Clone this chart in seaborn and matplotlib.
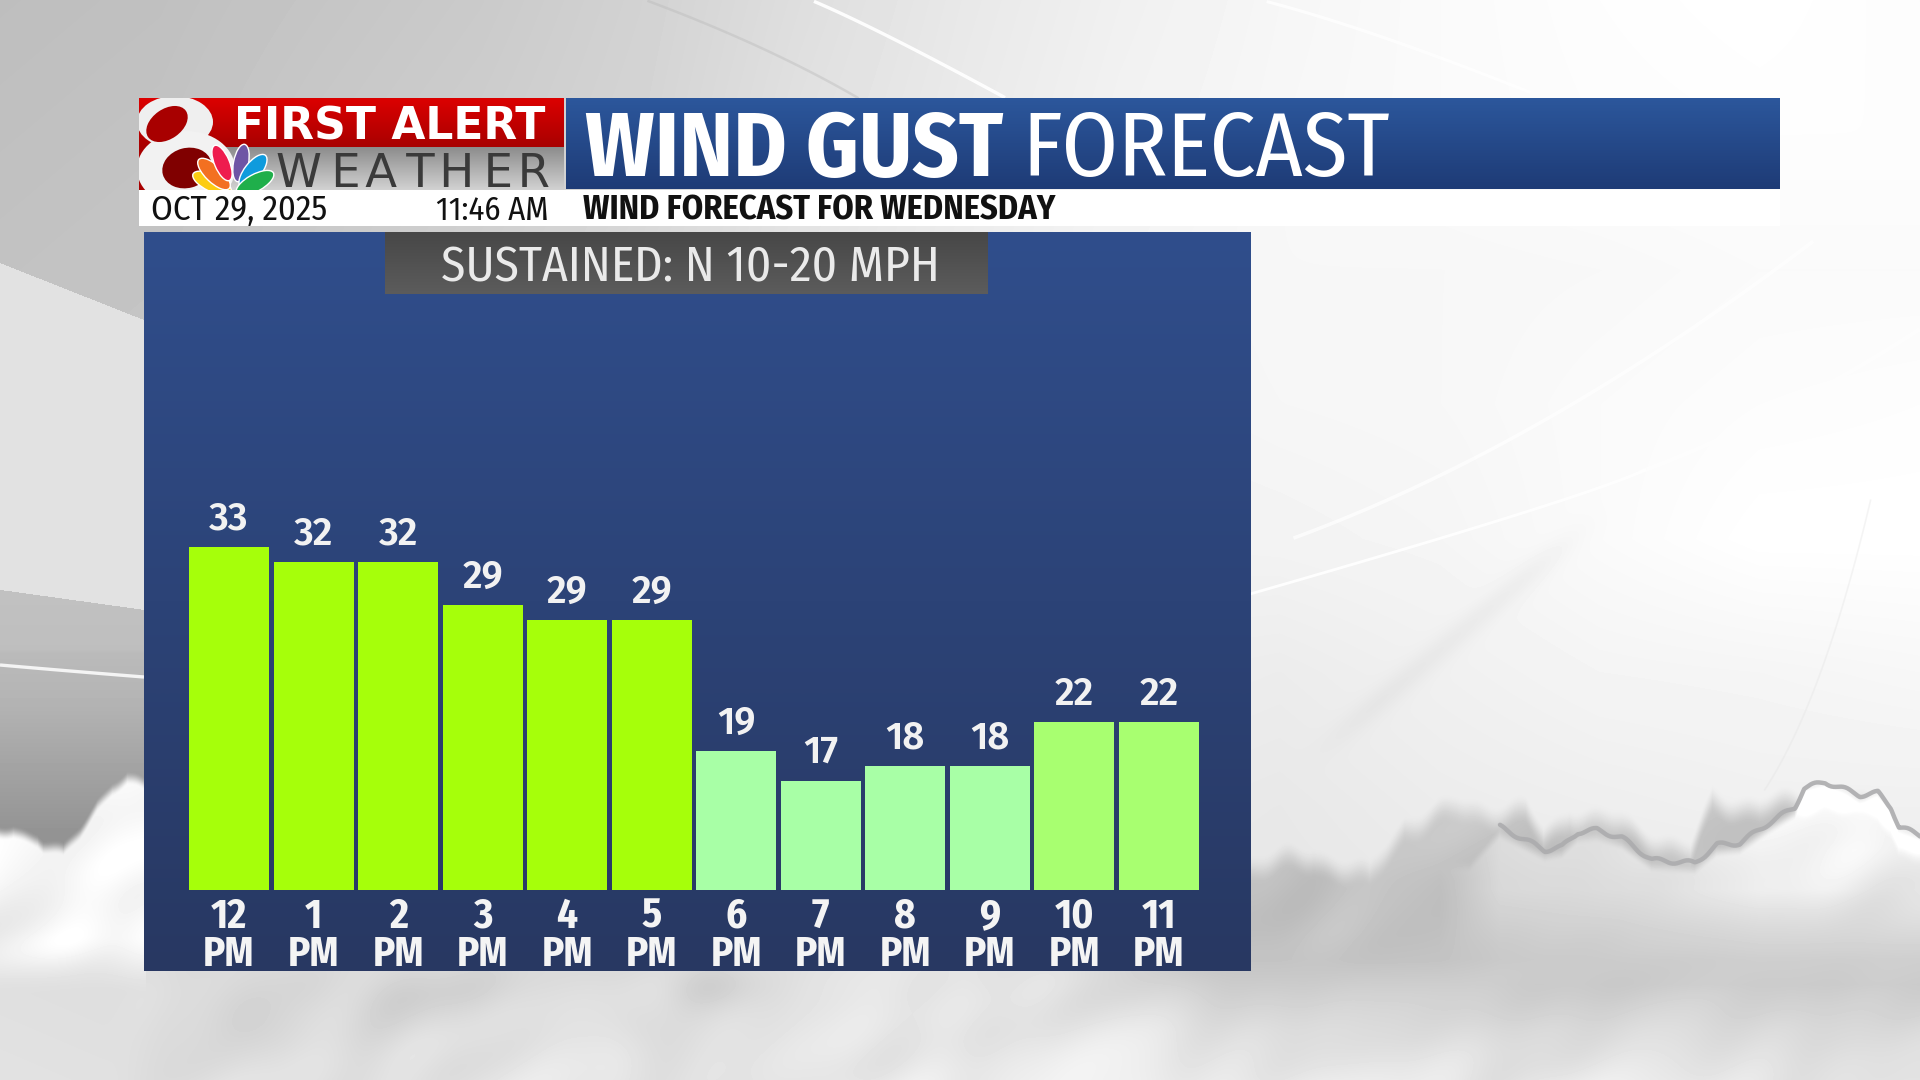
import numpy as np
import pandas as pd
import matplotlib
matplotlib.use("Agg")
import matplotlib.pyplot as plt
from matplotlib.patches import Ellipse, Rectangle
import seaborn as sns

# ---- data ----
hours = ["12\nPM", "1\nPM", "2\nPM", "3\nPM", "4\nPM", "5\nPM", "6\nPM", "7\nPM", "8\nPM", "9\nPM", "10\nPM", "11\nPM"]
bar_levels = [33, 32, 32, 29, 28, 28, 19, 17, 18, 18, 21, 21]
gust_labels = [33, 32, 32, 29, 29, 29, 19, 17, 18, 18, 22, 22]
bar_colors = ["#A6FF0A"] * 6 + ["#A8FFA6"] * 4 + ["#A8FF70"] * 2

TITLE_BOLD = "WIND GUST"
TITLE_LIGHT = "FORECAST"
SUBTITLE = "WIND FORECAST FOR WEDNESDAY"
DATE = "OCT 29, 2025"
TIME = "11:46 AM"
SUSTAINED = "SUSTAINED: N 10-20 MPH"

sns.set_theme(style="white")
NARROW = ["Fira Sans Condensed", "Barlow Condensed", "Roboto", "DejaVu Sans"]
VALUE_FONT = ["Fira Sans", "Roboto", "DejaVu Sans"]
plt.rcParams["font.family"] = NARROW

fig = plt.figure(figsize=(19.2, 10.8), dpi=100)
bg = fig.add_axes([0, 0, 1, 1], zorder=0)
bg.set_axis_off()


def grad(ax, x0, x1, y0, y1, c0, c1, zorder=1):
    c0, c1 = np.array(matplotlib.colors.to_rgba(c0)), np.array(matplotlib.colors.to_rgba(c1))
    t = np.linspace(0, 1, 256)[:, None, None]
    arr = c0[None, None, :] * (1 - t) + c1[None, None, :] * t
    return ax.imshow(arr, extent=(x0, x1, y1, y0), aspect="auto", interpolation="bilinear", zorder=zorder)


def rise(v, width):
    t = np.clip(v / width, 0, 1)
    return t * t * (3 - 2 * t)


# ---- studio backdrop (grey levels on a coarse grid, then shapes) ----
row_y = [0, 135, 270, 404, 539, 673, 808, 943, 1080]
col_x = np.linspace(0, 1920, 13)
base = np.array([
    [190, 192, 197, 202, 210, 222, 232, 240, 246, 250, 253, 255, 252],
    [192, 194, 200, 205, 212, 225, 234, 242, 247, 250, 252, 253, 253],
    [194, 196, 202, 208, 216, 228, 236, 244, 247, 247, 248, 250, 250],
    [196, 198, 204, 210, 218, 230, 238, 244, 246, 247, 250, 252, 253],
    [198, 200, 206, 212, 220, 230, 238, 242, 243, 245, 250, 255, 255],
    [200, 202, 208, 214, 220, 228, 234, 238, 236, 240, 244, 245, 247],
    [205, 208, 212, 216, 220, 226, 230, 234, 232, 236, 238, 240, 240],
    [222, 220, 218, 218, 220, 224, 228, 230, 230, 232, 232, 232, 232],
    [226, 224, 224, 226, 228, 232, 234, 236, 234, 232, 230, 228, 228],
], dtype=float)
yy, xx = np.mgrid[0:1080:1080j, 0:1920:1920j]
by_row = np.array([np.interp(xx[0], col_x, r) for r in base])
field = np.stack([np.interp(yy[:, 0], row_y, by_row[:, j]) for j in range(xx.shape[1])], axis=1)
base_field = field.copy()

wave_kx = [0.011, 0.023, 0.037, 0.061, 0.017, 0.047, 0.083, 0.029]
wave_ky = [0.031, 0.017, 0.043, 0.026, 0.071, 0.059, 0.037, 0.091]
wave_ph = [0.4, 1.9, 3.1, 5.2, 2.2, 0.9, 4.4, 1.3]
wave_am = [3.0, 3.5, 2.5, 2.0, 2.0, 1.5, 1.2, 1.2]
texture = sum(a * np.sin(kx * xx + ky * yy + p) for kx, ky, p, a in zip(wave_kx, wave_ky, wave_ph, wave_am))
scallop = 5 * np.sin(xx / 13.0) + 3 * np.sin(xx / 6.1 + 1.0)

# left-hand swoosh bands
left = xx < 146
arc_top = 263 + 0.396 * xx
band_top = 590 + 0.139 * xx
field[left & (yy > arc_top)] = 226
dark_val = np.interp(yy, [590, 650, 653, 700, 830], [193, 190, 186, 180, 148])
mask = left & (yy > band_top)
field[mask] = dark_val[mask]

# left-hand cloud, fading into the plain backdrop below
lc_x = [0, 13, 37, 43, 63, 80, 97, 112, 127, 146]
lc_y = [825, 823, 833, 840, 847, 825, 797, 780, 772, 782]
lc_top = np.interp(xx, lc_x, lc_y) + 0.6 * scallop
lc_mask = left * rise(yy - lc_top, 14)
lc_val = 248 + 1.3 * texture
lc_val = lc_val + (base_field - lc_val) * rise(yy - 935, 60)
field = field * (1 - lc_mask) + lc_val * lc_mask

# right-hand grey cloud bank
dk_x = [1100, 1240, 1314, 1370, 1405, 1457, 1526, 1544, 1570, 1622, 1691, 1713, 1760, 1804, 1825, 1860, 1878, 1891, 1899, 1920]
dk_y = [880, 855, 845, 865, 813, 797, 800, 827, 803, 813, 843, 787, 797, 787, 782, 795, 793, 807, 827, 835]
dk_top = np.interp(xx, dk_x, dk_y) + scallop
fade = np.interp(yy, [780, 880, 960, 1030, 1080], [1.0, 1.0, 0.85, 0.3, 0.0])
dk_mask = rise(xx - 1000, 240) * rise(yy - dk_top, 30) * fade
field = field - dk_mask * (42 + 0.8 * texture)

# brighter billows below the rim line
rim_x = [1470, 1500, 1545, 1562, 1578, 1597, 1622, 1652, 1695, 1717, 1740, 1769, 1795, 1804, 1825, 1860, 1878, 1891, 1899, 1920]
rim_y = [860, 827, 850, 847, 832, 830, 838, 860, 863, 845, 843, 823, 807, 788, 782, 795, 793, 807, 827, 835]
rim_top = np.interp(xx, rim_x, rim_y)
w_gain = np.interp(xx, [1440, 1500, 1620, 1760, 1920], [0, 0.55, 0.65, 1.0, 1.0])
w_fade = np.interp(yy, [780, 850, 890, 930, 985], [1.0, 1.0, 0.9, 0.5, 0.0])
w_mask = rise(yy - rim_top, 14) * w_gain * w_fade
field = field + w_mask * (46 + 1.8 * texture)

# mottled lower band
low = rise(yy - 930, 70) * rise(xx - 100, 100)
field = field + low * 0.9 * texture

# soft shadows under the panel
blob_x = [706, 640, 360, 250]
blob_y = [985, 1025, 990, 1020]
blob_sx = [40, 22, 80, 30]
blob_sy = [18, 24, 20, 24]
blob_d = [-16, -10, -8, -8]
for bx, by, sx, sy, d in zip(blob_x, blob_y, blob_sx, blob_sy, blob_d):
    field += d * np.exp(-((xx - bx) / sx) ** 2 / 2 - ((yy - by) / sy) ** 2 / 2)

# soft shadow along the diagonal at lower right
d0 = np.array([1293.0, 775.0])
d1 = np.array([1613.0, 504.0])
seg = d1 - d0
along = ((xx - d0[0]) * seg[0] + (yy - d0[1]) * seg[1]) / (seg @ seg)
perp = ((xx - d0[0]) * seg[1] - (yy - d0[1]) * seg[0]) / np.hypot(*seg)
field -= 8 * np.exp(-(perp / 9) ** 2 / 2) * rise(along, 0.3) * rise(1 - along, 0.3)

bg.imshow(np.clip(field, 0, 255) / 255, cmap="gray", vmin=0, vmax=1, extent=(0, 1920, 1080, 0),
          aspect="auto", interpolation="bilinear", zorder=0)

# curved strokes: x list, y list, colour, width, alpha
stroke_sets = [
    ([649, 720, 800, 857], [2, 28, 68, 97], "#B8B8B8", 1.8, 0.4),
    ([815, 860, 930, 1004], [2, 22, 58, 97], "#FFFFFF", 2.4, 0.95),
    ([1267, 1340, 1430, 1530], [2, 22, 55, 92], "#FFFFFF", 2.2, 0.8),
    ([0, 70, 144], [665, 671, 677], "#F4F4F4", 2.4, 1.0),
    ([1251, 1421, 1592, 1640], [593, 546, 489, 472], "#FFFFFF", 2.0, 0.95),
    ([1293, 1420, 1549, 1677, 1814], [539, 485, 414, 343, 239], "#FFFFFF", 2.5, 0.75),
    ([1640, 1780, 1920], [472, 410, 329], "#FFFFFF", 3.0, 0.45),
    ([1870, 1840, 1800, 1765], [500, 620, 720, 790], "#E2E2E2", 1.2, 0.35),
]
for sx_, sy_, c_, lw_, a_ in stroke_sets:
    t_in = np.linspace(0, 1, len(sx_))
    t_out = np.linspace(0, 1, 60)
    deg = min(2, len(sx_) - 1)
    bg.plot(np.polyval(np.polyfit(t_in, sx_, deg), t_out), np.polyval(np.polyfit(t_in, sy_, deg), t_out),
            color=c_, lw=lw_, alpha=a_, zorder=1, solid_capstyle="butt")

# darker rim of the right-hand cloud
rim_dense = np.linspace(rim_x[1], rim_x[-1], 400)
bg.plot(rim_dense, np.interp(rim_dense, rim_x, rim_y) + 2.2 * np.sin(rim_dense / 5.0),
        color="#ACACAE", lw=3.2, alpha=0.9, zorder=1, solid_joinstyle="round")

# ---- header ----
grad(bg, 139, 564, 98, 147, "#DC0000", "#A80000", zorder=3)
grad(bg, 139, 564, 147, 190, "#8C8C8C", "#D2D2D2", zorder=3)
grad(bg, 566, 1780, 98, 189, "#2C579C", "#1E3B76", zorder=3)
bg.add_patch(Rectangle((139, 190), 1641, 36, fc="white", ec="none", zorder=3))

# station logo: the figure 8
logo_clip = Rectangle((139, 98), 425, 92, transform=bg.transData)
bg.add_patch(Rectangle((139, 147), 30, 43, fc="#A80000", ec="none", zorder=3.5))
loop_x = [175, 186, 167, 187]
loop_y = [122, 169, 124, 168]
loop_w = [76, 98, 46, 50]
loop_h = [52, 76, 30, 40]
loop_rot = [0, 0, -35, -15]
loop_col = ["#EFEFEF", "#F2F2F2", "#A80000", "#800000"]
for cx, cy, w, h, rot, col in zip(loop_x, loop_y, loop_w, loop_h, loop_rot, loop_col):
    e = Ellipse((cx, cy), w, h, angle=rot, fc=col, ec="none", zorder=4)
    bg.add_patch(e)
    e.set_clip_path(logo_clip)

# peacock
feather_x = [212, 214, 222, 241, 253, 255]
feather_y = [183, 174, 163, 163, 171, 183]
feather_len = [42, 42, 38, 38, 40, 42]
feather_wid = [17, 17, 15, 15, 17, 17]
feather_color = ["#FCCC12", "#F37021", "#EE1C4E", "#6E55A5", "#0F9BDD", "#1FAF4B"]
for fx, fy, ln, wd, col in zip(feather_x, feather_y, feather_len, feather_wid, feather_color):
    rot = np.rad2deg(np.arctan2(fy - 194, fx - 235))
    e = Ellipse((fx, fy), ln, wd, angle=rot, fc=col, ec="white", lw=1.0, zorder=5)
    bg.add_patch(e)
    e.set_clip_path(logo_clip)

# header text
hkw = dict(zorder=6, va="baseline", ha="left")
bg.text(234, 140, "FIRST ALERT", color="white", fontsize=31.7, fontweight="bold",
        family=["DejaVu Sans"], **hkw)
bg.text(276, 187, "W\u2009E\u200aA\u2009T\u200aH\u2009E\u200aR", color="#3A3A3A", fontsize=33.5,
        fontweight="normal", family=["DejaVu Sans"], **hkw)
bg.text(585, 176, TITLE_BOLD, color="white", fontsize=65, fontweight="bold", **hkw)
bg.text(1022, 176, TITLE_LIGHT, color="white", fontsize=65, **hkw)
bg.text(151, 219.5, DATE, color="#111111", fontsize=25, **hkw)
bg.text(436, 219.5, TIME, color="#111111", fontsize=23.5, **hkw)
bg.text(583, 219.5, SUBTITLE, color="#111111", fontsize=24.7, fontweight="bold", **hkw)

# chart panel and sustained-wind strip
grad(bg, 144, 1251, 232, 971, "#304E8C", "#283862", zorder=3)
grad(bg, 385, 988, 232, 294, "#474747", "#5C5C5C", zorder=4)
bg.text(690, 282, SUSTAINED, color="#EAEAEA", fontsize=35.5, ha="center", va="baseline", zorder=6)

bg.set_xlim(0, 1920)
bg.set_ylim(1080, 0)

# ---- bars ----
W, H = 1920, 1080
ax = fig.add_axes([144 / W, (H - 890) / H, (1251 - 144) / W, (890 - 232) / H], zorder=2)
ax.patch.set_alpha(0)
df = pd.DataFrame({"hour": hours, "level": bar_levels})
sns.barplot(data=df, x="hour", y="level", hue="hour", palette=bar_colors, legend=False,
            width=0.947, saturation=1, linewidth=0, edgecolor="none", ax=ax)
ax.set_xlim(-1.006, 12.09)
ax.set_ylim(9.5, 54.57)
for container, lab in zip(ax.containers, gust_labels):
    ax.bar_label(container, labels=[str(lab)], padding=6.5, color="#F2F2F2", fontsize=27.5,
                 fontweight="semibold", family=VALUE_FONT)
ax.set_xlabel("")
ax.set_ylabel("")
ax.set_yticks([])
ax.tick_params(axis="x", length=0, pad=4.5, labelsize=29.5, labelcolor="#F4F4F4")
for t in ax.get_xticklabels():
    t.set_fontweight("bold")
    t.set_linespacing(0.92)
for s in ax.spines.values():
    s.set_visible(False)

fig.savefig("out.png", dpi=100)
